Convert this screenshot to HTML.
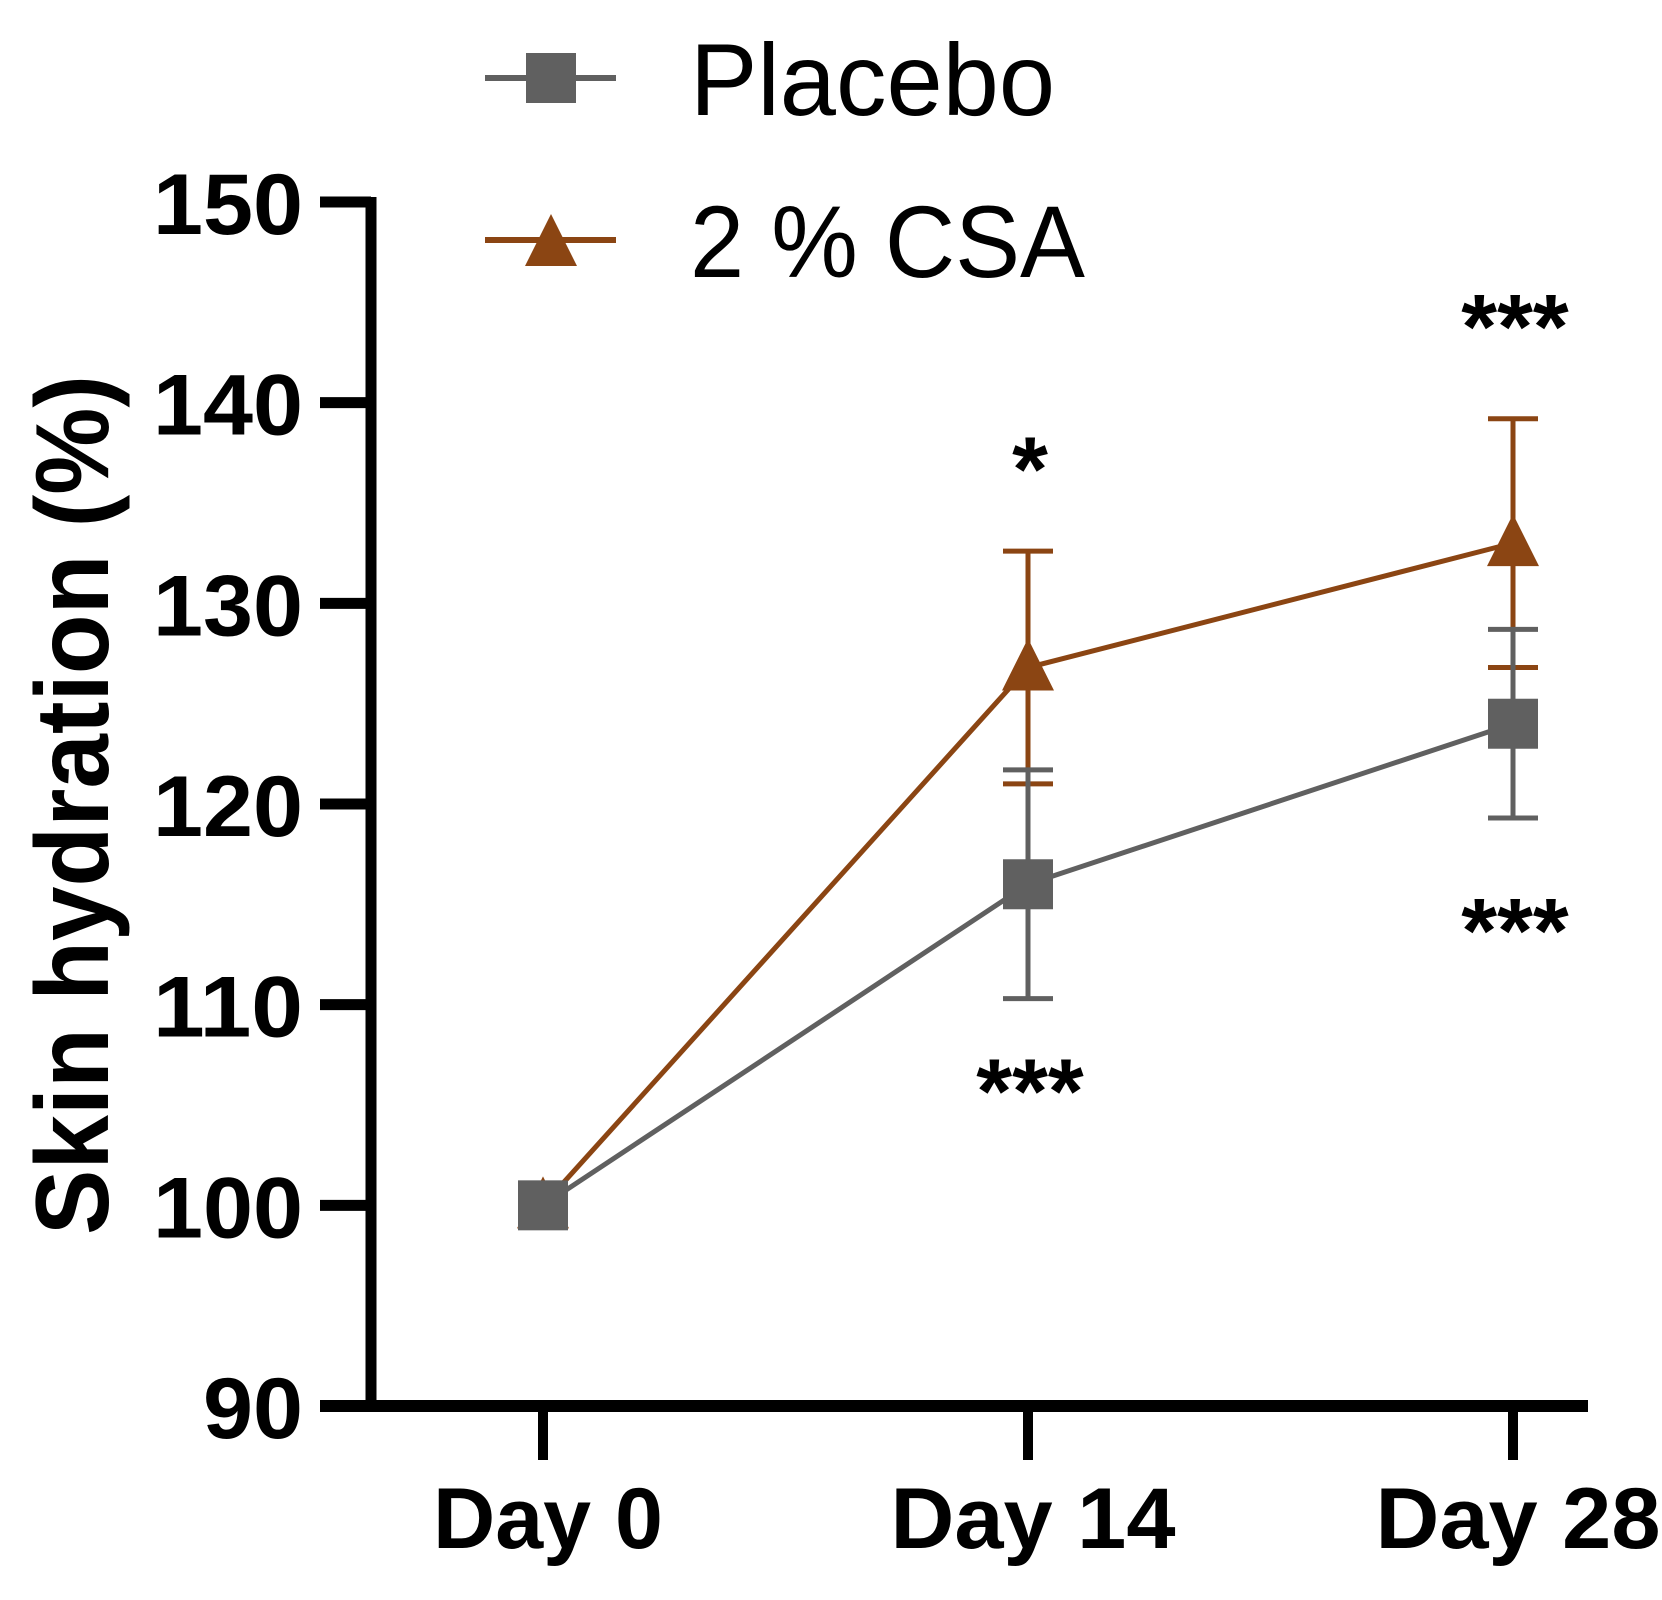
<!DOCTYPE html>
<html><head><meta charset="utf-8"><style>
html,body{margin:0;padding:0;background:#fff;width:1662px;height:1600px;overflow:hidden}
svg{display:block}
text{font-family:"Liberation Sans",Arial,sans-serif}
</style></head><body>
<svg id="chart" width="1662" height="1600" viewBox="0 0 1662 1600" xmlns="http://www.w3.org/2000/svg">
<g id="axes"></g>
<g id="series"></g>
<g id="legend"></g>
</svg>
<script>
const categories = ["Day 0", "Day 14", "Day 28"];
const placeboMean = [100, 116, 124];
const placeboErr = [0, 5.7, 4.7];
const csaMean = [100, 126.8, 133];
const csaErr = [0, 5.8, 6.2];
const yTicks = [90, 100, 110, 120, 130, 140, 150];
const sigLabels = [
  {cat: 1, y: 137.3, text: "*"},
  {cat: 1, y: 106.3, text: "***"},
  {cat: 2, y: 144.4, text: "***"},
  {cat: 2, y: 114.3, text: "***"}
];

const NS = "http://www.w3.org/2000/svg";
const yMin = 90, yMax = 150, yBottom = 1406, yTop = 202;
const xPos = [543, 1028, 1513];
function yScale(v){ return yBottom - (v - yMin) / (yMax - yMin) * (yBottom - yTop); }
function xScale(i){ return xPos[i]; }
function mk(tag, attrs, parent){
  const el = document.createElementNS(NS, tag);
  for (const k in attrs) el.setAttribute(k, attrs[k]);
  parent.appendChild(el);
  return el;
}
const axes = document.getElementById("axes");
const series = document.getElementById("series");
const legend = document.getElementById("legend");

let yl = mk("line", {x1:371, y1:yTop-5, x2:371, y2:yBottom+6, stroke:"#000", "stroke-width":11}, axes);


let xl = mk("line", {x1:320, y1:yBottom, x2:1588, y2:yBottom, stroke:"#000", "stroke-width":12}, axes);


yTicks.forEach(function(t){
  const y = yScale(t);
  const tk = mk("line", {x1:320, y1:y, x2:371, y2:y, stroke:"#000", "stroke-width":11}, axes);
  
  
  const tx = mk("text", {x:303, y:y+32, "text-anchor":"end", "font-size":86, "font-weight":"bold", "textLength": t>=100?150:100, lengthAdjust:"spacingAndGlyphs"}, axes);
  tx.textContent = t;
  
  
});
categories.forEach(function(c, i){
  const x = xScale(i);
  const tk = mk("line", {x1:x, y1:yBottom, x2:x, y2:1460, stroke:"#000", "stroke-width":10}, axes);
  
  
  const tx = mk("text", {x:x+5, y:1548, "text-anchor":"middle", "font-size":86, "font-weight":"bold", textLength: c.length>5?285:230, lengthAdjust:"spacingAndGlyphs"}, axes);
  tx.textContent = c;
  
  
});
const yt = mk("text", {x:0, y:0, transform:"translate(108,805) rotate(-90)", "text-anchor":"middle", "font-size":104, "font-weight":"bold", textLength:860, lengthAdjust:"spacingAndGlyphs"}, axes);
yt.textContent = "Skin hydration (%)";



function drawSeries(means, errs, color, marker, name){
  const g = mk("g", {}, series);
  
  
  const pts = means.map(function(m, i){ return xScale(i) + "," + yScale(m); }).join(" ");
  const pl = mk("polyline", {points:pts, fill:"none", stroke:color, "stroke-width":5}, g);
  
  
  means.forEach(function(m, i){
    const x = xScale(i);
    if (errs[i] > 0){
      const eb = mk("path", {d:"M"+x+","+yScale(m-errs[i])+"V"+yScale(m+errs[i])+"M"+(x-25)+","+yScale(m+errs[i])+"h50M"+(x-25)+","+yScale(m-errs[i])+"h50", stroke:color, "stroke-width":5, fill:"none"}, g);
      
      
    }
  });
  means.forEach(function(m, i){
    const x = xScale(i), y = yScale(m);
    let mkEl;
    if (marker === "square") mkEl = mk("rect", {x:x-25, y:y-25, width:50, height:50, fill:color}, g);
    else mkEl = mk("polygon", {points:(x)+","+(y-29)+" "+(x-26)+","+(y+23)+" "+(x+26)+","+(y+23), fill:color}, g);
    
    
  });
}
drawSeries(csaMean, csaErr, "#8B4513", "triangle", "csa");
drawSeries(placeboMean, placeboErr, "#606060", "square", "placebo");

sigLabels.forEach(function(s){
  const t = mk("text", {x:xScale(s.cat)+2, y:yScale(s.y)+44, "text-anchor":"middle", "font-size":92, "font-weight":"bold"}, series);
  t.textContent = s.text;
  
  
});

const legItems = [["Placebo", "#606060", "square", 78], ["2 % CSA", "#8B4513", "triangle", 240]];
legItems.forEach(function(li){
  const g = mk("g", {}, legend);
  
  
  const y = li[3];
  mk("line", {x1:485, y1:y, x2:616, y2:y, stroke:li[1], "stroke-width":6}, g);
  if (li[2] === "square") mk("rect", {x:526, y:y-25, width:50, height:50, fill:li[1]}, g);
  else mk("polygon", {points:"551,"+(y-26)+" 525,"+(y+26)+" 577,"+(y+26), fill:li[1]}, g);
  const t = mk("text", {x:690, y:y+37, "font-size":102, textLength: li[0]==="Placebo"?365:395, lengthAdjust:"spacingAndGlyphs"}, g);
  t.textContent = li[0];
});
</script>
</body></html>
